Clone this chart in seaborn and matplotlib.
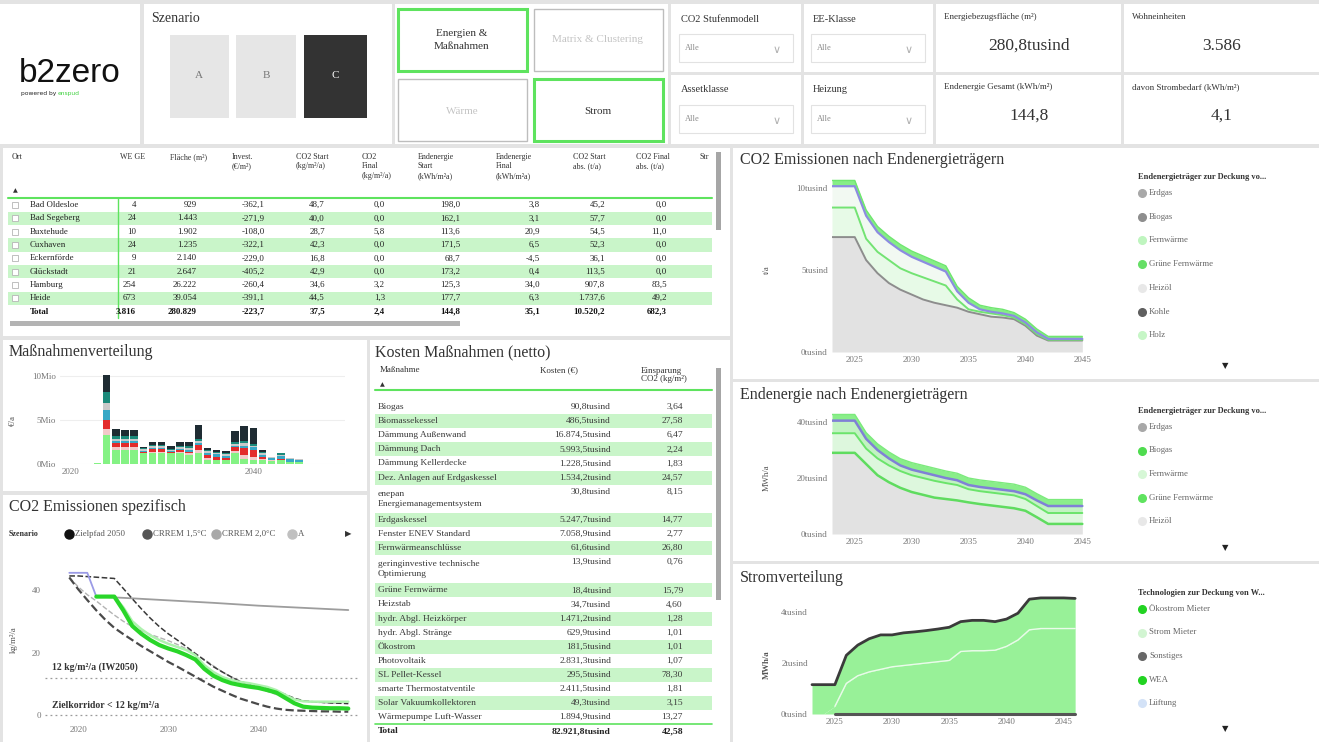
import numpy as np
import pandas as pd
import matplotlib
matplotlib.use("Agg")
import matplotlib.pyplot as plt
from matplotlib.patches import Rectangle
import seaborn as sns

# ---------------- data ----------------
orte = ["Bad Oldesloe", "Bad Segeberg", "Buxtehude", "Cuxhaven", "Eckernförde", "Glückstadt", "Hamburg", "Heide"]
we_ge = [4, 24, 10, 24, 9, 21, 254, 673]
flaeche = [929, 1443, 1902, 1235, 2140, 2647, 26222, 39054]
invest = [-362.1, -271.9, -108.0, -322.1, -229.0, -405.2, -260.4, -391.1]
co2_start = [48.7, 40.0, 28.7, 42.3, 16.8, 42.9, 34.6, 44.5]
co2_final = [0.0, 0.0, 5.8, 0.0, 0.0, 0.0, 3.2, 1.3]
ee_start = [198.0, 162.1, 113.6, 171.5, 68.7, 173.2, 125.3, 177.7]
ee_final = [3.8, 3.1, 20.9, 6.5, -4.5, 0.4, 34.0, 6.3]
co2_start_abs = [45.2, 57.7, 54.5, 52.3, 36.1, 113.5, 907.8, 1737.6]
co2_final_abs = [0.0, 0.0, 11.0, 0.0, 0.0, 0.0, 83.5, 49.2]
table_total = [3816, 280829, -223.7, 37.5, 2.4, 144.8, 35.1, 10520.2, 682.3]

massnahmen = ["Biogas", "Biomassekessel", "Dämmung Außenwand", "Dämmung Dach", "Dämmung Kellerdecke",
              "Dez. Anlagen auf Erdgaskessel", "enepan\nEnergiemanagementsystem", "Erdgaskessel",
              "Fenster ENEV Standard", "Fernwärmeanschlüsse", "geringinvestive technische\nOptimierung",
              "Grüne Fernwärme", "Heizstab", "hydr. Abgl. Heizkörper", "hydr. Abgl. Stränge", "Ökostrom",
              "Photovoltaik", "SL Pellet-Kessel", "smarte Thermostatventile", "Solar Vakuumkollektoren",
              "Wärmepumpe Luft-Wasser"]
kosten_tsd = [90.8, 486.5, 16874.5, 5993.5, 1228.5, 1534.2, 30.8, 5247.7, 7058.9, 61.6, 13.9, 18.4, 34.7,
              1471.2, 629.9, 181.5, 2831.3, 295.5, 2411.5, 49.3, 1894.9]
einsparung = [3.64, 27.58, 6.47, 2.24, 1.83, 24.57, 8.15, 14.77, 2.77, 26.80, 0.76, 15.79, 4.60, 1.28,
              1.01, 1.01, 1.07, 78.30, 1.81, 3.15, 13.27]
kosten_total = 82921.8
einsparung_total = 42.58

kpi_titles = ["Energiebezugsfläche (m²)", "Wohneinheiten", "Endenergie Gesamt (kWh/m²)", "davon Strombedarf (kWh/m²)"]
kpi_values = ["280,8tusind", "3.586", "144,8", "4,1"]

# Maßnahmenverteilung (Mio €/a)
mv_years = list(range(2023, 2046))
mv_cats = ["Wärmepumpe", "Photovoltaik", "Erdgaskessel", "Fenster", "Dämmung Dach", "Dämmung Außenwand", "Sonstige"]
mv_waermepumpe = [0.15, 3.3, 1.6, 1.6, 1.6, 1.2, 1.2, 1.2, 1.2, 1.2, 1.0, 1.3, 0.5, 0.4, 0.4, 1.2, 0.6, 0.5, 0.4, 0.3, 0.5, 0.25, 0.2]
mv_pv = [0, 0.7, 0.3, 0.3, 0.3, 0.1, 0.2, 0.2, 0.1, 0.2, 0.2, 0.3, 0.2, 0.1, 0.1, 0.3, 0.4, 0.3, 0.2, 0.1, 0.0, 0, 0]
mv_erdgas = [0, 1.0, 0.5, 0.5, 0.5, 0.1, 0.3, 0.3, 0.1, 0.2, 0.2, 0.6, 0.3, 0.3, 0.2, 0.4, 0.8, 0.8, 0.2, 0.1, 0.1, 0, 0]
mv_fenster = [0, 1.1, 0.2, 0.2, 0.2, 0.1, 0.1, 0.1, 0.1, 0.1, 0.2, 0.2, 0.3, 0.3, 0.2, 0.2, 0.3, 0.3, 0.2, 0.2, 0.3, 0.3, 0.3]
mv_dach = [0, 0.8, 0.3, 0.3, 0.3, 0.2, 0.2, 0.2, 0.1, 0.2, 0.2, 0.2, 0.2, 0.2, 0.2, 0.2, 0.3, 0.2, 0.2, 0.1, 0.1, 0.1, 0.07]
mv_wand = [0, 1.3, 0.3, 0.25, 0.25, 0.1, 0.15, 0.15, 0.1, 0.15, 0.2, 0.2, 0.1, 0.1, 0.1, 0.2, 0.2, 0.2, 0.2, 0.03, 0.2, 0, 0]
mv_sonstige = [0, 1.9, 0.8, 0.7, 0.7, 0.16, 0.35, 0.35, 0.3, 0.45, 0.5, 1.6, 0.2, 0.2, 0.3, 1.2, 1.7, 1.8, 0.2, 0, 0, 0, 0]
mv_colors = ["#84f284", "#f3c9c9", "#e32b2b", "#37a8c6", "#c9c9c9", "#1b8a7b", "#1f2c33"]

# CO2 Emissionen spezifisch (kg/m²/a)
ist_years = [2019, 2020, 2021, 2022]
ist_vals = [45.5, 45.5, 45.5, 37.9]
a_years = [2022, 2025, 2030, 2035, 2040, 2045, 2050]
a_vals = [37.9, 37.5, 36.7, 35.9, 35.0, 34.3, 33.6]
sc_years = list(range(2022, 2051))
c_vals = [37.9, 37.9, 37.9, 33.5, 28.5, 26.0, 24.0, 22.4, 21.3, 20.4, 19.2, 17.8, 14.8, 12.6, 11.2, 10.2, 9.6,
          9.1, 8.7, 8.0, 7.2, 5.5, 3.8, 2.7, 2.4, 2.3, 2.2, 2.2, 2.1]
b_vals = [37.9, 37.9, 37.9, 34.5, 30.0, 27.5, 25.5, 24.0, 22.8, 21.8, 20.8, 19.2, 16.0, 13.8, 12.2, 11.2, 10.6,
          10.2, 9.6, 9.0, 8.0, 6.5, 5.0, 4.4, 4.3, 4.3, 4.3, 4.3, 4.3]
pf_years = list(range(2019, 2051))
zielpfad = [44.5, 44.5, 44.3, 44.1, 43.9, 43.7, 40.5, 37.2, 34.0, 31.0, 28.3, 26.0, 24.0, 21.9, 19.7, 17.6,
            15.5, 13.8, 12.2, 10.7, 10.0, 9.4, 8.8, 7.8, 6.6, 5.4, 4.6, 4.3, 4.1, 3.9, 3.8, 3.7]
crrem15 = [44.0, 40.2, 36.8, 33.5, 30.5, 27.9, 25.9, 24.0, 22.1, 20.4, 18.7, 17.0, 15.5, 13.9, 12.3, 10.7,
           9.1, 7.8, 6.5, 5.3, 4.4, 3.5, 2.7, 2.1, 1.7, 1.5, 1.4, 1.3, 1.2, 1.2, 1.1, 1.1]
crrem20 = [44.0, 41.0, 38.5, 36.5, 34.2, 32.0, 30.0, 28.3, 27.0, 25.8, 24.8, 23.8, 22.6, 21.2, 19.6, 17.8,
           15.8, 13.8, 12.2, 10.8, 9.6, 8.6, 7.6, 6.6, 5.8, 5.0, 4.5, 4.2, 4.0, 3.9, 3.8, 3.7]

# CO2 nach Endenergieträgern (tausend t/a)
et_years = list(range(2023, 2046))
co2_erdgas = [7.0, 7.0, 7.0, 5.6, 4.8, 4.2, 3.8, 3.5, 3.2, 3.0, 2.85, 2.7, 2.45, 2.3, 2.15, 2.1, 2.0, 1.6, 1.0, 0.7, 0.7, 0.7, 0.7]
co2_fernw = [1.8, 1.8, 1.8, 1.3, 1.3, 1.4, 1.3, 1.3, 1.35, 1.3, 1.2, 0.5, 0.15, 0.15, 0.2, 0.15, 0.1, 0.1, 0.1, 0.05, 0.05, 0.05, 0.05]
co2_biogas = [1.3, 1.3, 1.3, 1.4, 1.2, 1.1, 1.1, 1.0, 0.95, 0.9, 0.85, 0.5, 0.4, 0.15, 0.1, 0.1, 0.1, 0.1, 0.1, 0.05, 0.05, 0.05, 0.05]
co2_gruen = [0.35, 0.35, 0.35, 0.35, 0.35, 0.35, 0.35, 0.35, 0.35, 0.35, 0.35, 0.3, 0.3, 0.25, 0.25, 0.25, 0.2, 0.2, 0.2, 0.15, 0.15, 0.15, 0.15]

# Endenergie nach Endenergieträgern (tausend MWh/a)
ee_erdgas = [29, 29, 29, 25, 21, 18.5, 16.5, 15, 14, 13, 12.5, 12, 11.3, 10.7, 10.2, 9.7, 9.2, 8.3, 6, 3.6, 3.6, 3.6, 3.6]
ee_fernw = [7, 7, 7, 5.5, 6, 6, 6, 6, 6, 6, 5.7, 5.5, 4.7, 4.6, 4.6, 4.6, 4.6, 4.2, 4, 3.9, 3.9, 3.9, 3.9]
ee_biogas = [4.5, 4.5, 4.5, 3.5, 3, 2.5, 2, 2, 2, 2, 1.8, 1.7, 1.5, 1.5, 1.5, 1.5, 1.5, 1.7, 2, 2.5, 2.5, 2.5, 2.5]
ee_gruen = [2.2, 2.2, 2.2, 2.2, 2.2, 2.3, 2.4, 2.5, 2.5, 2.5, 2.5, 2.5, 2.5, 2.5, 2.5, 2.5, 2.5, 2.5, 2.4, 2.3, 2.3, 2.3, 2.3]

# Stromverteilung (tausend MWh/a)
st_years = list(range(2023, 2047))
st_wea = [0, 0, 0.3, 1.2, 1.5, 1.65, 1.75, 1.85, 1.9, 1.95, 2.0, 2.05, 2.1, 2.45, 2.48, 2.48, 2.5, 2.65, 2.9,
          3.3, 3.35, 3.35, 3.35, 3.35]
st_oekostrom = [1.15, 1.15, 0.85, 1.1, 1.2, 1.3, 1.35, 1.25, 1.28, 1.27, 1.27, 1.28, 1.3, 1.17, 1.19, 1.19,
                1.12, 1.07, 1.05, 1.2, 1.2, 1.2, 1.2, 1.18]
st_sonstiges = [0] * 24

# ---------------- helpers ----------------
W, H = 1319, 742
sns.set_theme(style="white")
plt.rcParams["font.family"] = ["Liberation Serif", "DejaVu Sans"]

fig = plt.figure(figsize=(W / 100, H / 100), dpi=100)
fig.patch.set_facecolor("#e3e3e3")
bg = fig.add_axes([0, 0, 1, 1])
bg.set_xlim(0, W)
bg.set_ylim(H, 0)
bg.axis("off")


def panel(x0, y0, x1, y1, fc="white", ec="none", lw=0, z=0):
    bg.add_patch(Rectangle((x0, y0), x1 - x0, y1 - y0, facecolor=fc, edgecolor=ec, linewidth=lw, zorder=z))


def T(x, y, s, size=7, ha="left", va="center", color="#333333", weight="normal", family=None, **kw):
    kwargs = dict(fontsize=size, ha=ha, va=va, color=color, fontweight=weight, zorder=5)
    if family:
        kwargs["family"] = family
    kwargs.update(kw)
    bg.text(x, y, s, **kwargs)


def px_ax(x0, y0, x1, y1):
    a = fig.add_axes([x0 / W, 1 - y1 / H, (x1 - x0) / W, (y1 - y0) / H])
    a.set_facecolor("none")
    for s in a.spines.values():
        s.set_visible(False)
    a.tick_params(length=0, labelsize=6.5, colors="#777777", pad=3)
    return a


def de(v, d=1):
    s = f"{abs(v):,.{d}f}".replace(",", "X").replace(".", ",").replace("X", ".")
    return ("-" if v < 0 else "") + s


GREEN_ROW = "#c9f5c9"
GREEN_LINE = "#5ee35e"

# ---------------- panels ----------------
for r in [(0, 4, 140, 144), (144, 4, 392, 144), (395, 4, 668, 144),
          (671, 4, 801, 72), (804, 4, 933, 72), (671, 75, 801, 144), (804, 75, 933, 144),
          (936, 4, 1121, 72), (1124, 4, 1319, 72), (936, 75, 1121, 144), (1124, 75, 1319, 144),
          (3, 148, 730, 336), (3, 340, 367, 491), (3, 495, 367, 742), (370, 340, 730, 742),
          (733, 148, 1319, 379), (733, 382, 1319, 561), (733, 564, 1319, 742)]:
    panel(*r)

# logo
T(19, 73, "b2zero", size=24, family="Liberation Sans", color="#111111")
T(21, 93, "powered by", size=4.3, family="DejaVu Sans", color="#222222")
T(58, 93, "enspud", size=4.3, family="DejaVu Sans", color="#3fd13f")

# Szenario
T(151, 18, "Szenario", size=10)
panel(170, 35, 229, 118, fc="#e6e6e6")
panel(236, 35, 296, 118, fc="#e6e6e6")
panel(304, 35, 367, 118, fc="#333333")
T(199, 76, "A", size=8, ha="center", color="#777777")
T(266, 76, "B", size=8, ha="center", color="#777777")
T(335, 76, "C", size=8, ha="center", color="white")

# buttons
panel(398, 9, 527, 71, fc="white", ec=GREEN_LINE, lw=2.2, z=1)
panel(534, 9, 663, 71, fc="white", ec="#bdbdbd", lw=1, z=1)
panel(398, 79, 527, 141, fc="white", ec="#bdbdbd", lw=1, z=1)
panel(534, 79, 663, 141, fc="white", ec=GREEN_LINE, lw=2.2, z=1)
T(462, 40, "Energien &\nMaßnahmen", size=8, ha="center", linespacing=1.5)
T(598, 40, "Matrix & Clustering", size=8, ha="center", color="#c4c4c4")
T(462, 111, "Wärme", size=8, ha="center", color="#c4c4c4")
T(598, 111, "Strom", size=8, ha="center")

# dropdowns
for (lx, ly, lab) in [(681, 19, "CO2 Stufenmodell"), (813, 19, "EE-Klasse"), (681, 90, "Assetklasse"), (813, 90, "Heizung")]:
    T(lx, ly, lab, size=7.5)
    panel(lx - 2, ly + 15, lx + 112, ly + 43, fc="white", ec="#e2e2e2", lw=0.8, z=1)
    T(lx + 4, ly + 29, "Alle", size=6, color="#8a8a8a")
    T(lx + 96, ly + 31, "∨", size=8, color="#b0b0b0", ha="center", family="DejaVu Sans")

# KPI cards
for (x0, y0, xc), title, val in zip([(944, 17, 1029), (1132, 17, 1222), (944, 87, 1029), (1132, 87, 1222)],
                                    kpi_titles, kpi_values):
    T(x0, y0, title, size=6.5)
    T(xc, y0 + 29, val, size=12.5, ha="center")

# ---------------- table 1 ----------------
hdr = ["Ort", "WE GE", "Fläche (m²)", "Invest.\n(€/m²)", "CO2 Start\n(kg/m²/a)", "CO2\nFinal\n(kg/m²/a)",
       "Endenergie\nStart\n(kWh/m²a)", "Endenergie\nFinal\n(kWh/m²a)", "CO2 Start\nabs. (t/a)",
       "CO2 Final\nabs. (t/a)", "Str"]
hx = [12, 120, 170, 232, 296, 362, 418, 496, 573, 636, 700]
for x, h in zip(hx, hdr):
    T(x, 153, h, size=5.8, va="top", linespacing=1.25)
T(13, 191, "▲", size=4.5, family="DejaVu Sans")
rx = [136, 197, 265, 325, 385, 460, 540, 605, 667]
cols = [(we_ge, 0), (flaeche, 0), (invest, 1), (co2_start, 1), (co2_final, 1), (ee_start, 1), (ee_final, 1),
        (co2_start_abs, 1), (co2_final_abs, 1)]
row_h = 13.3
y0 = 198.5
for i, ort in enumerate(orte):
    yc = y0 + row_h * (i + 0.5)
    if i % 2 == 1:
        panel(8, yc - row_h / 2, 712, yc + row_h / 2, fc=GREEN_ROW, z=1)
    panel(12, yc - 3, 18, yc + 3, fc="white", ec="#b5b5b5", lw=0.6, z=2)
    T(30, yc, ort, size=6.4, color="#222222")
    for x, (arr, d) in zip(rx, cols):
        T(x, yc, de(arr[i], d), size=6.4, ha="right", color="#222222")
yt = y0 + row_h * 8.5
T(30, yt, "Total", size=6.4, weight="bold", color="#111111")
for x, v, (arr, d) in zip(rx, table_total, cols):
    T(x, yt, de(v, d), size=6.4, ha="right", weight="bold", color="#111111")
bg.plot([8, 712], [198, 198], color=GREEN_LINE, lw=1.5, zorder=3)
bg.plot([118, 118], [198, 318], color=GREEN_LINE, lw=1.0, zorder=3)
panel(10, 321, 460, 326, fc="#b3b3b3", z=2)
panel(716, 152, 721, 230, fc="#a6a6a6", z=2)

# ---------------- Kosten Maßnahmen table ----------------
T(375, 352, "Kosten Maßnahmen (netto)", size=11.5)
T(380, 370, "Maßnahme", size=6.5)
T(540, 370, "Kosten (€)", size=6.5)
T(641, 375, "Einsparung\nCO2 (kg/m²)", size=6.5, linespacing=1.1)
T(380, 385, "▲", size=4.5, family="DejaVu Sans")
bg.plot([375, 712], [390, 390], color=GREEN_LINE, lw=1.5, zorder=3)
unit = 14.1
ycur = 400.0
for i, (m, k, e) in enumerate(zip(massnahmen, kosten_tsd, einsparung)):
    nl = m.count("\n") + 1
    h = unit * nl
    if i % 2 == 1:
        panel(375, ycur, 712, ycur + h, fc=GREEN_ROW, z=1)
    T(378, ycur + h / 2, m, size=6.8, color="#3a3a3a", linespacing=1.35)
    T(611, ycur + unit / 2, de(k, 1) + "tusind", size=6.8, ha="right", color="#3a3a3a")
    T(683, ycur + unit / 2, de(e, 2), size=6.8, ha="right", color="#3a3a3a")
    ycur += h
bg.plot([375, 712], [ycur, ycur], color=GREEN_LINE, lw=1.2, zorder=3)
T(378, ycur + unit / 2, "Total", size=6.8, weight="bold", color="#222222")
T(611, ycur + unit / 2, de(kosten_total, 1) + "tusind", size=6.8, ha="right", weight="bold", color="#222222")
T(683, ycur + unit / 2, de(einsparung_total, 2), size=6.8, ha="right", weight="bold", color="#222222")
panel(716, 368, 721, 600, fc="#a6a6a6", z=2)

# ---------------- Maßnahmenverteilung ----------------
T(9, 352, "Maßnahmenverteilung", size=11.5)
mv_series = [mv_waermepumpe, mv_pv, mv_erdgas, mv_fenster, mv_dach, mv_wand, mv_sonstige]
mv_df = pd.DataFrame([(y, c, v) for c, arr in zip(mv_cats, mv_series) for y, v in zip(mv_years, arr)],
                     columns=["Jahr", "Kategorie", "Wert"])
ax1 = px_ax(60, 370, 345, 464)
sns.histplot(data=mv_df, x="Jahr", weights="Wert", hue="Kategorie", hue_order=mv_cats[::-1],
             palette=dict(zip(mv_cats, mv_colors)), multiple="stack", discrete=True, shrink=0.82,
             linewidth=0, alpha=1, legend=False, ax=ax1)
ax1.set_xlim(2018.9, 2050)
ax1.set_ylim(0, 10.7)
ax1.set_yticks([0, 5, 10])
ax1.set_yticklabels(["0Mio", "5Mio", "10Mio"])
ax1.set_xticks([2020, 2040])
ax1.set_xticklabels(["2020", "2040"])
ax1.set_xlabel("")
ax1.set_ylabel("")
ax1.yaxis.grid(True, color="#eeeeee", lw=0.8)
ax1.set_axisbelow(True)
T(13, 420, "€/a", size=6.5, rotation=90, ha="center", color="#555555")

# ---------------- CO2 Emissionen spezifisch ----------------
T(9, 507, "CO2 Emissionen spezifisch", size=11.5)
T(9, 534, "Szenario", size=5.8, weight="bold")
for mx, col, lab in [(69, "#111111", "Zielpfad 2050"), (147, "#555555", "CRREM 1,5°C"),
                     (216, "#a9a9a9", "CRREM 2,0°C"), (292, "#c0c0c0", "A")]:
    bg.plot([mx], [534], "o", ms=6.5, color=col, zorder=5)
    T(mx + 6, 534, lab, size=6.3, color="#555555")
T(345, 534, "▶", size=6, family="DejaVu Sans", color="#333333")

ax2 = px_ax(45, 560, 360, 722)
ax2.axhline(12, color="#9a9a9a", lw=0.9, ls=(0, (1.5, 2.5)))
ax2.axhline(0, color="#9a9a9a", lw=0.9, ls=(0, (1.5, 2.5)))
sns.lineplot(x=a_years, y=a_vals, ax=ax2, color="#9d9d9d", lw=1.3)
sns.lineplot(x=pf_years, y=crrem20, ax=ax2, color="#b3b3b3", lw=1.0, linestyle="--")
sns.lineplot(x=pf_years, y=zielpfad, ax=ax2, color="#3a3a3a", lw=1.1, linestyle="--")
sns.lineplot(x=pf_years, y=crrem15, ax=ax2, color="#4a4a4a", lw=1.6, linestyle="--")
sns.lineplot(x=ist_years, y=ist_vals, ax=ax2, color="#9b9be6", lw=1.3)
sns.lineplot(x=sc_years, y=b_vals, ax=ax2, color="#aef2ae", lw=1.8)
sns.lineplot(x=sc_years, y=c_vals, ax=ax2, color="#29d629", lw=3.0)
ax2.set_xlim(2016.3, 2051.3)
ax2.set_ylim(-2.2, 49.6)
ax2.set_yticks([0, 20, 40])
ax2.set_xticks([2020, 2030, 2040])
ax2.set_xlabel("")
ax2.set_ylabel("")
T(14, 640, "kg/m²/a", size=6.3, rotation=90, ha="center", color="#555555")
T(52, 667, "12 kg/m²/a (IW2050)", size=7, weight="bold", color="#333333")
T(52, 705, "Zielkorridor < 12 kg/m²/a", size=7, weight="bold", color="#333333")


# ---------------- right stacked area charts ----------------
def area_chart(ax, years, layers, fills, edges, lws):
    ax.stackplot(years, *layers, colors=fills, linewidth=0)
    cum = np.zeros(len(years))
    for arr, ec, lw in zip(layers, edges, lws):
        cum = cum + np.array(arr)
        if ec is not None:
            sns.lineplot(x=years, y=cum, ax=ax, color=ec, lw=lw)


def legend_block(x, y0, title, items, dy, arrow_y):
    T(x, y0, title, size=6, weight="bold", color="#333333")
    for j, (lab, col) in enumerate(items):
        yy = y0 + 16 + j * dy
        bg.plot([x + 4], [yy], "o", ms=5.5, color=col, zorder=5)
        T(x + 11, yy, lab, size=6.3, color="#666666")
    T(x + 87, arrow_y, "▼", size=6, family="DejaVu Sans", color="#222222", ha="center")


T(740, 160, "CO2 Emissionen nach Endenergieträgern", size=11.5)
ax3 = px_ax(832, 178, 1088, 352)
area_chart(ax3, et_years, [co2_erdgas, co2_fernw, co2_biogas, co2_gruen],
           ["#e2e2e2", "#e7fae7", "#f2f9f2", "#86ee86"],
           ["#8d8d8d", "#73e373", "#8c8ce0", "#6fe66f"], [1.4, 1.4, 1.6, 1.0])
ax3.set_xlim(2023, 2045.5)
ax3.set_ylim(0, 10.6)
ax3.set_yticks([0, 5, 10])
ax3.set_yticklabels(["0tusind", "5tusind", "10tusind"])
ax3.set_xticks([2025, 2030, 2035, 2040, 2045])
ax3.set_xlabel("")
ax3.set_ylabel("")
T(767, 270, "t/a", size=6.3, rotation=90, ha="center", color="#555555")
legend_block(1138, 177, "Endenergieträger zur Deckung vo...",
             [("Erdgas", "#a8a8a8"), ("Biogas", "#8e8e8e"), ("Fernwärme", "#bff5bf"),
              ("Grüne Fernwärme", "#66df66"), ("Heizöl", "#e8e8e8"), ("Kohle", "#5f5f5f"),
              ("Holz", "#c6f6c6")], 23.7, 366)

T(740, 395, "Endenergie nach Endenergieträgern", size=11.5)
ax4 = px_ax(832, 410, 1088, 534)
area_chart(ax4, et_years, [ee_erdgas, ee_fernw, ee_biogas, ee_gruen],
           ["#e2e2e2", "#ddf7dd", "#c2f3c2", "#8aee8a"],
           ["#5fdc5f", "#6be46b", "#8080d6", "#7cea7c"], [1.8, 1.4, 1.8, 1.0])
ax4.set_xlim(2023, 2045.5)
ax4.set_ylim(0, 44.3)
ax4.set_yticks([0, 20, 40])
ax4.set_yticklabels(["0tusind", "20tusind", "40tusind"])
ax4.set_xticks([2025, 2030, 2035, 2040, 2045])
ax4.set_xlabel("")
ax4.set_ylabel("")
T(767, 478, "MWh/a", size=6.3, rotation=90, ha="center", color="#555555")
legend_block(1138, 411, "Endenergieträger zur Deckung vo...",
             [("Erdgas", "#a8a8a8"), ("Biogas", "#4fdc4f"), ("Fernwärme", "#d6f7d6"),
              ("Grüne Fernwärme", "#5fe35f"), ("Heizöl", "#e8e8e8")], 23.5, 548)

T(740, 578, "Stromverteilung", size=11.5)
ax5 = px_ax(812, 590, 1082, 714)
ax5.stackplot(st_years, st_wea, st_oekostrom, st_sonstiges, colors=["#98f198", "#98f198", "#98f198"], linewidth=0)
sns.lineplot(x=st_years[2:], y=st_wea[2:], ax=ax5, color="#eafbea", lw=1.0)
st_total = np.array(st_wea) + np.array(st_oekostrom) + np.array(st_sonstiges)
sns.lineplot(x=st_years, y=st_total, ax=ax5, color="#3b3b3b", lw=2.0)
sns.lineplot(x=st_years[2:], y=st_sonstiges[2:], ax=ax5, color="#555555", lw=2.2)
for ln in ax5.lines:
    ln.set_clip_on(False)
ax5.set_xlim(2023, 2046.6)
ax5.set_ylim(0, 4.86)
ax5.set_yticks([0, 2, 4])
ax5.set_yticklabels(["0tusind", "2tusind", "4tusind"])
ax5.set_xticks([2025, 2030, 2035, 2040, 2045])
ax5.set_xlabel("")
ax5.set_ylabel("")
T(767, 665, "MWh/a", size=6.3, rotation=90, ha="center", color="#555555", weight="bold")
legend_block(1138, 593, "Technologien zur Deckung von W...",
             [("Ökostrom Mieter", "#22d322"), ("Strom Mieter", "#d2f5d2"), ("Sonstiges", "#686868"),
              ("WEA", "#22d322"), ("Lüftung", "#d3e2f7")], 23.5, 729)

fig.savefig("out.png", dpi=100, facecolor=fig.get_facecolor())
